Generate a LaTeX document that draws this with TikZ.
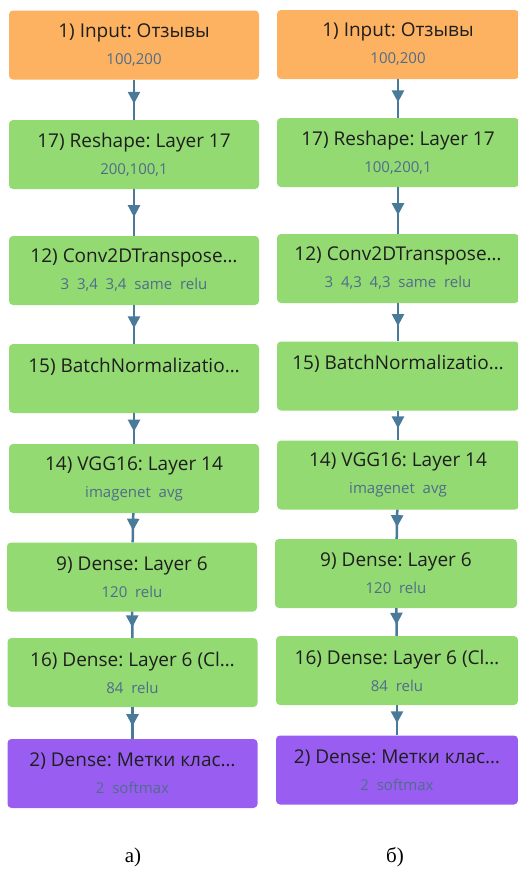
\documentclass[tikz,border=0pt]{standalone}
\usepackage{fontspec}
\setmainfont{Open Sans}
\newfontfamily\capfont{Liberation Serif}
\usepackage{xcolor}
\usetikzlibrary{arrows.meta,decorations.markings}
\frenchspacing

\definecolor{inorange}{RGB}{252,178,96}
\definecolor{hidgreen}{RGB}{147,218,114}
\definecolor{outpurple}{RGB}{153,94,241}
\definecolor{titlecol}{RGB}{30,30,30}
\definecolor{subcol}{RGB}{80,108,140}
\definecolor{flowblue}{RGB}{74,122,154}

\newcommand{\subt}[1]{{\color{subcol}\fontsize{15}{15}\selectfont #1}}

\tikzset{
  layer/.style={rectangle, rounded corners=4pt, minimum width=250pt, minimum height=69pt,
    inner sep=0pt, align=center, text=titlecol, font=\fontsize{19}{27}\selectfont},
  inlayer/.style={layer, fill=inorange},
  hidlayer/.style={layer, fill=hidgreen},
  outlayer/.style={layer, fill=outpurple},
  flow/.style={color=flowblue, line width=2.5pt, postaction={decorate},
    decoration={markings, mark=at position 0.6 with {\arrow{Triangle[length=12pt,width=12pt]}}}},
  caption/.style={font=\capfont\fontsize{21}{21}\selectfont}
}

\begin{document}
\begin{tikzpicture}[x=1pt,y=-1pt]
\useasboundingbox (0,0) rectangle (518,870);
\clip (0,0) rectangle (518,870);
% a) left model
\node[inlayer]  (a1) at (134,45)    {1) Input: Отзывы\\\subt{100,200}};
\node[hidlayer] (a2) at (134,154.5) {17) Reshape: Layer 17\\\subt{200,100,1}};
\node[hidlayer] (a3) at (134,270.5) {12) Conv2DTranspose…\\\subt{3\ \ 3,4\ \ 3,4\ \ same\ \ relu}};
\node[hidlayer] (a4) at (134,378.5) {15) BatchNormalizatio…\\\subt{\phantom{0}}};
\node[hidlayer] (a5) at (134,478.5) {14) VGG16: Layer 14\\\subt{imagenet\ \ avg}};
\node[hidlayer] (a6) at (132,577)   {9) Dense: Layer 6\\\subt{120\ \ relu}};
\node[hidlayer] (a7) at (132.5,672.5) {16) Dense: Layer 6 (Cl…\\\subt{84\ \ relu}};
\node[outlayer] (a8) at (132.5,773.5) {2) Dense: Метки клас…\\\subt{2\ \ softmax}};
\node[caption] (capa) at (133,857) {а)};
% b) right model
\node[inlayer,minimum width=242pt]  (b1) at (398,44.5)  {1) Input: Отзывы\\\subt{100,200}};
\node[hidlayer,minimum width=242pt] (b2) at (398,152.5) {17) Reshape: Layer 17\\\subt{100,200,1}};
\node[hidlayer,minimum width=242pt] (b3) at (398,268.5) {12) Conv2DTranspose…\\\subt{3\ \ 4,3\ \ 4,3\ \ same\ \ relu}};
\node[hidlayer,minimum width=242pt] (b4) at (398,376)   {15) BatchNormalizatio…\\\subt{\phantom{0}}};
\node[hidlayer,minimum width=242pt] (b5) at (398,475)   {14) VGG16: Layer 14\\\subt{imagenet\ \ avg}};
\node[hidlayer,minimum width=242pt] (b6) at (396,573.5) {9) Dense: Layer 6\\\subt{120\ \ relu}};
\node[hidlayer,minimum width=242pt] (b7) at (397,670.5) {16) Dense: Layer 6 (Cl…\\\subt{84\ \ relu}};
\node[outlayer,minimum width=242pt] (b8) at (397,770)   {2) Dense: Метки клас…\\\subt{2\ \ softmax}};
\node[caption] (capb) at (395,857) {б)};
% connections
\draw[flow] (a1) -- (a2);
\draw[flow] (a2) -- (a3);
\draw[flow] (a3) -- (a4);
\draw[flow] (a4) -- (a5);
\draw[flow] (a5) -- (a6);
\draw[flow] (a6) -- (a7);
\draw[flow] (a7) -- (a8);
\draw[flow] (b1) -- (b2);
\draw[flow] (b2) -- (b3);
\draw[flow] (b3) -- (b4);
\draw[flow] (b4) -- (b5);
\draw[flow] (b5) -- (b6);
\draw[flow] (b6) -- (b7);
\draw[flow] (b7) -- (b8);
\end{tikzpicture}
\end{document}
